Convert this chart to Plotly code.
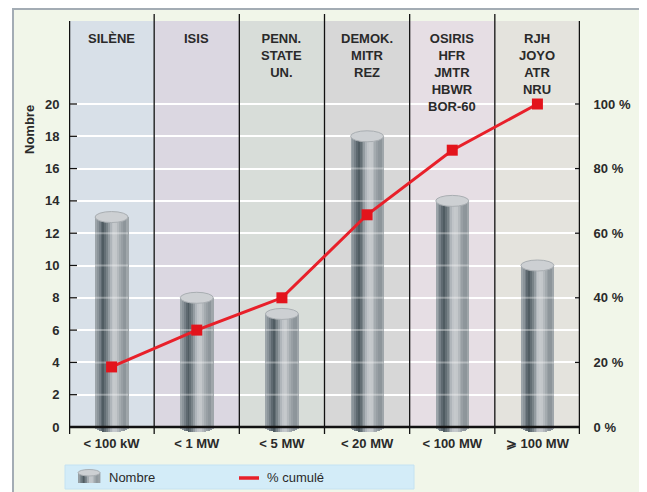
import plotly.graph_objects as go
import math

# ---------------- data ----------------
categories = ["< 100 kW", "< 1 MW", "< 5 MW", "< 20 MW", "< 100 MW", "⩾ 100 MW"]
reactors = ["SILÈNE", "ISIS", "PENN.<br>STATE<br>UN.", "DEMOK.<br>MITR<br>REZ",
            "OSIRIS<br>HFR<br>JMTR<br>HBWR<br>BOR-60", "RJH<br>JOYO<br>ATR<br>NRU"]
nombre = [13, 8, 7, 18, 14, 10]
cumul_pct = [18.6, 30.0, 40.0, 65.7, 85.7, 100.0]
left_ticks = [0, 2, 4, 6, 8, 10, 12, 14, 16, 18, 20]
right_ticks = [0, 20, 40, 60, 80, 100]
right_ticktext = ["0 %", "20 %", "40 %", "60 %", "80 %", "100 %"]

# ---------------- geometry (screen pixels; page body has an 8px margin) ----------------
OFF = 8
W, H = 647, 492
FW, FH = W - OFF, H - OFF
L, R, T, B = 69, 580, 14, 434
PX_PER_UNIT = 16.15
Y0_PIX = 427
ymin = -(B - Y0_PIX) / PX_PER_UNIT
ymax = (Y0_PIX - T) / PX_PER_UNIT
col_px = (R - L) / 6.0

def pxx(x):
    return (x - L) / (R - L)

def pxy(y):
    return (B - y) / (B - T)

def ux(px):  # pixel -> x data
    return -0.5 + (px - L) / col_px

def uy(py):  # pixel -> y data
    return (Y0_PIX - py) / PX_PER_UNIT

col_bg = ["#d8e0e8", "#dbd7e1", "#d8ddd9", "#d7d7d7", "#e6dee4", "#e4e3dd"]
txt = "#2a2a2a"
FONT = "Liberation Sans, Arial, sans-serif"

profile = [(0.0, (0xa4, 0xab, 0xb0)), (0.1, (0x86, 0x90, 0x96)), (0.24, (0x4c, 0x58, 0x5f)),
           (0.36, (0x78, 0x82, 0x88)), (0.5, (0xbd, 0xc2, 0xc6)), (0.62, (0xc8, 0xcc, 0xcf)),
           (0.78, (0x9c, 0xa3, 0xa8)), (0.9, (0x88, 0x90, 0x95)), (1.0, (0xa8, 0xae, 0xb2))]

def prof(u):
    for (a, ca), (b, cb) in zip(profile[:-1], profile[1:]):
        if a <= u <= b:
            t = (u - a) / (b - a)
            c = [round(ca[k] + (cb[k] - ca[k]) * t) for k in range(3)]
            return "rgb(%d,%d,%d)" % tuple(c)
    return "rgb(160,166,170)"

fig = go.Figure()

# ---------------- cylinders (bars as vertical strips) ----------------
BW = 33 / col_px
RY = 5.5 / PX_PER_UNIT
N = 18
x_idx = list(range(len(categories)))
for k in range(N):
    u = (k + 0.5) / N
    off = -BW / 2 + k * BW / N
    uc = (u - 0.5) * 2
    base = -RY * math.sqrt(max(0.0, 1 - uc * uc))
    fig.add_trace(go.Bar(
        x=x_idx, y=[v - base for v in nombre], base=[base] * len(nombre),
        width=BW / N * 1.25, offset=off,
        marker=dict(color=prof(u), line=dict(width=0)),
        showlegend=False, hoverinfo="skip"))

# faint gridline reflections on the bars
fx, fy = [], []
for i, v in enumerate(nombre):
    for g in left_ticks[1:]:
        if g < v - RY:
            fx += [i - BW / 2, i + BW / 2, None]
            fy += [g, g, None]
fig.add_trace(go.Scatter(x=fx, y=fy, mode="lines",
                         line=dict(color="rgba(255,255,255,0.35)", width=2),
                         showlegend=False, hoverinfo="skip"))

# cumulative line
fig.add_trace(go.Scatter(x=x_idx, y=cumul_pct, yaxis="y2", mode="lines+markers",
                         line=dict(color="#e8202a", width=3),
                         marker=dict(symbol="square", size=11, color="#e3141c"),
                         showlegend=False, hoverinfo="skip"))

shapes = []
# outer frame
shapes.append(dict(type="rect", xref="paper", yref="paper",
                   x0=pxx(13), x1=pxx(645), y0=pxy(505), y1=pxy(9),
                   fillcolor="#f1f6e9", line=dict(color="#a3acb4", width=2), layer="below"))
# column backgrounds
for i, c in enumerate(col_bg):
    shapes.append(dict(type="rect", xref="x", yref="y", x0=i - 0.5, x1=i + 0.5,
                       y0=0, y1=uy(21), fillcolor=c, line=dict(width=0), layer="below"))
# column dividers
for i in range(1, 6):
    shapes.append(dict(type="line", xref="x", yref="y", x0=i - 0.5, x1=i - 0.5,
                       y0=ymin, y1=ymax, line=dict(color="#111111", width=1.3), layer="between"))
# axis lines
shapes.append(dict(type="line", xref="x", yref="y", x0=-0.5, x1=-0.5, y0=ymin, y1=uy(21),
                   line=dict(color="#111111", width=2.5), layer="above"))
shapes.append(dict(type="line", xref="x", yref="y", x0=5.5, x1=5.5, y0=ymin, y1=uy(21),
                   line=dict(color="#111111", width=2.5), layer="above"))
shapes.append(dict(type="line", xref="x", yref="y", x0=ux(63), x1=5.5, y0=0, y1=0,
                   line=dict(color="#111111", width=2.5), layer="above"))
# tick marks
for t in left_ticks:
    shapes.append(dict(type="line", xref="x", yref="y", x0=ux(63), x1=ux(77), y0=t, y1=t,
                       line=dict(color="#111111", width=1.3), layer="above"))
for t in right_ticks:
    shapes.append(dict(type="line", xref="x", yref="y", x0=ux(575), x1=ux(588),
                       y0=t / 5, y1=t / 5, line=dict(color="#111111", width=1.3), layer="above"))
# cylinder caps
for i, v in enumerate(nombre):
    shapes.append(dict(type="circle", xref="x", yref="y", x0=i - BW / 2, x1=i + BW / 2,
                       y0=v - RY, y1=v + RY, fillcolor="#cdd0d3",
                       line=dict(color="#a9aeb2", width=1), layer="above"))

# legend box
shapes.append(dict(type="rect", xref="paper", yref="paper", x0=pxx(65), x1=pxx(414),
                   y0=pxy(489), y1=pxy(465), fillcolor="#d3ecf8",
                   line=dict(color="#c4e2f2", width=1), layer="above"))
# legend cylinder icon
n_i = 10
for k in range(n_i):
    u = (k + 0.5) / n_i
    x0 = 78 + k * 22 / n_i
    shapes.append(dict(type="rect", xref="paper", yref="paper", x0=pxx(x0), x1=pxx(x0 + 22 / n_i + 0.4),
                       y0=pxy(483), y1=pxy(472.5), fillcolor=prof(u), line=dict(width=0), layer="above"))
shapes.append(dict(type="circle", xref="paper", yref="paper", x0=pxx(78), x1=pxx(100),
                   y0=pxy(476), y1=pxy(469.5), fillcolor="#cdd0d3",
                   line=dict(color="#a9aeb2", width=1), layer="above"))
shapes.append(dict(type="line", xref="paper", yref="paper", x0=pxx(239), x1=pxx(259),
                   y0=pxy(478), y1=pxy(478), line=dict(color="#e8202a", width=3.5), layer="above"))

annotations = []
for i, r in enumerate(reactors):
    annotations.append(dict(x=i, y=uy(29), xref="x", yref="y", text="<b>%s</b>" % r,
                            showarrow=False, yanchor="top", xanchor="center", align="center",
                            font=dict(family=FONT, size=13, color=txt)))
annotations.append(dict(x=pxx(29), y=pxy(130), xref="paper", yref="paper", text="<b>Nombre</b>",
                        textangle=-90, showarrow=False, xanchor="center", yanchor="middle",
                        font=dict(family=FONT, size=13, color=txt)))
annotations.append(dict(x=pxx(107), y=pxy(477), xref="paper", yref="paper", text="Nombre",
                        xanchor="left", yanchor="middle", showarrow=False,
                        font=dict(family=FONT, size=13, color=txt)))
annotations.append(dict(x=pxx(265), y=pxy(477), xref="paper", yref="paper", text="% cumulé",
                        xanchor="left", yanchor="middle", showarrow=False,
                        font=dict(family=FONT, size=13, color=txt)))

fig.update_layout(
    width=FW, height=FH,
    margin=dict(l=L - OFF, r=FW - (R - OFF), t=T - OFF, b=FH - (B - OFF), autoexpand=False),
    paper_bgcolor="white", plot_bgcolor="rgba(0,0,0,0)",
    barmode="overlay", bargap=0,
    showlegend=False,
    xaxis=dict(range=[-0.5, 5.5], tickvals=x_idx, ticktext=["<b>%s</b>" % c for c in categories],
               showgrid=False, zeroline=False, showline=False, ticks="",
               tickfont=dict(family=FONT, size=13, color=txt), fixedrange=True),
    yaxis=dict(range=[ymin, ymax], tickvals=left_ticks, ticktext=["<b>%d</b>" % t for t in left_ticks],
               showgrid=True, gridcolor="white", gridwidth=2, zeroline=False, showline=False,
               ticks="outside", ticklen=6, tickcolor="rgba(0,0,0,0)",
               tickfont=dict(family=FONT, size=13, color=txt)),
    yaxis2=dict(range=[ymin * 5, ymax * 5], overlaying="y", side="right",
                tickvals=right_ticks, ticktext=["<b>%s</b>" % t for t in right_ticktext],
                showgrid=False, zeroline=False, showline=False,
                ticks="outside", ticklen=10, tickcolor="rgba(0,0,0,0)",
                tickfont=dict(family=FONT, size=13, color=txt)),
    shapes=shapes, annotations=annotations,
)

fig.write_html("out.html")
